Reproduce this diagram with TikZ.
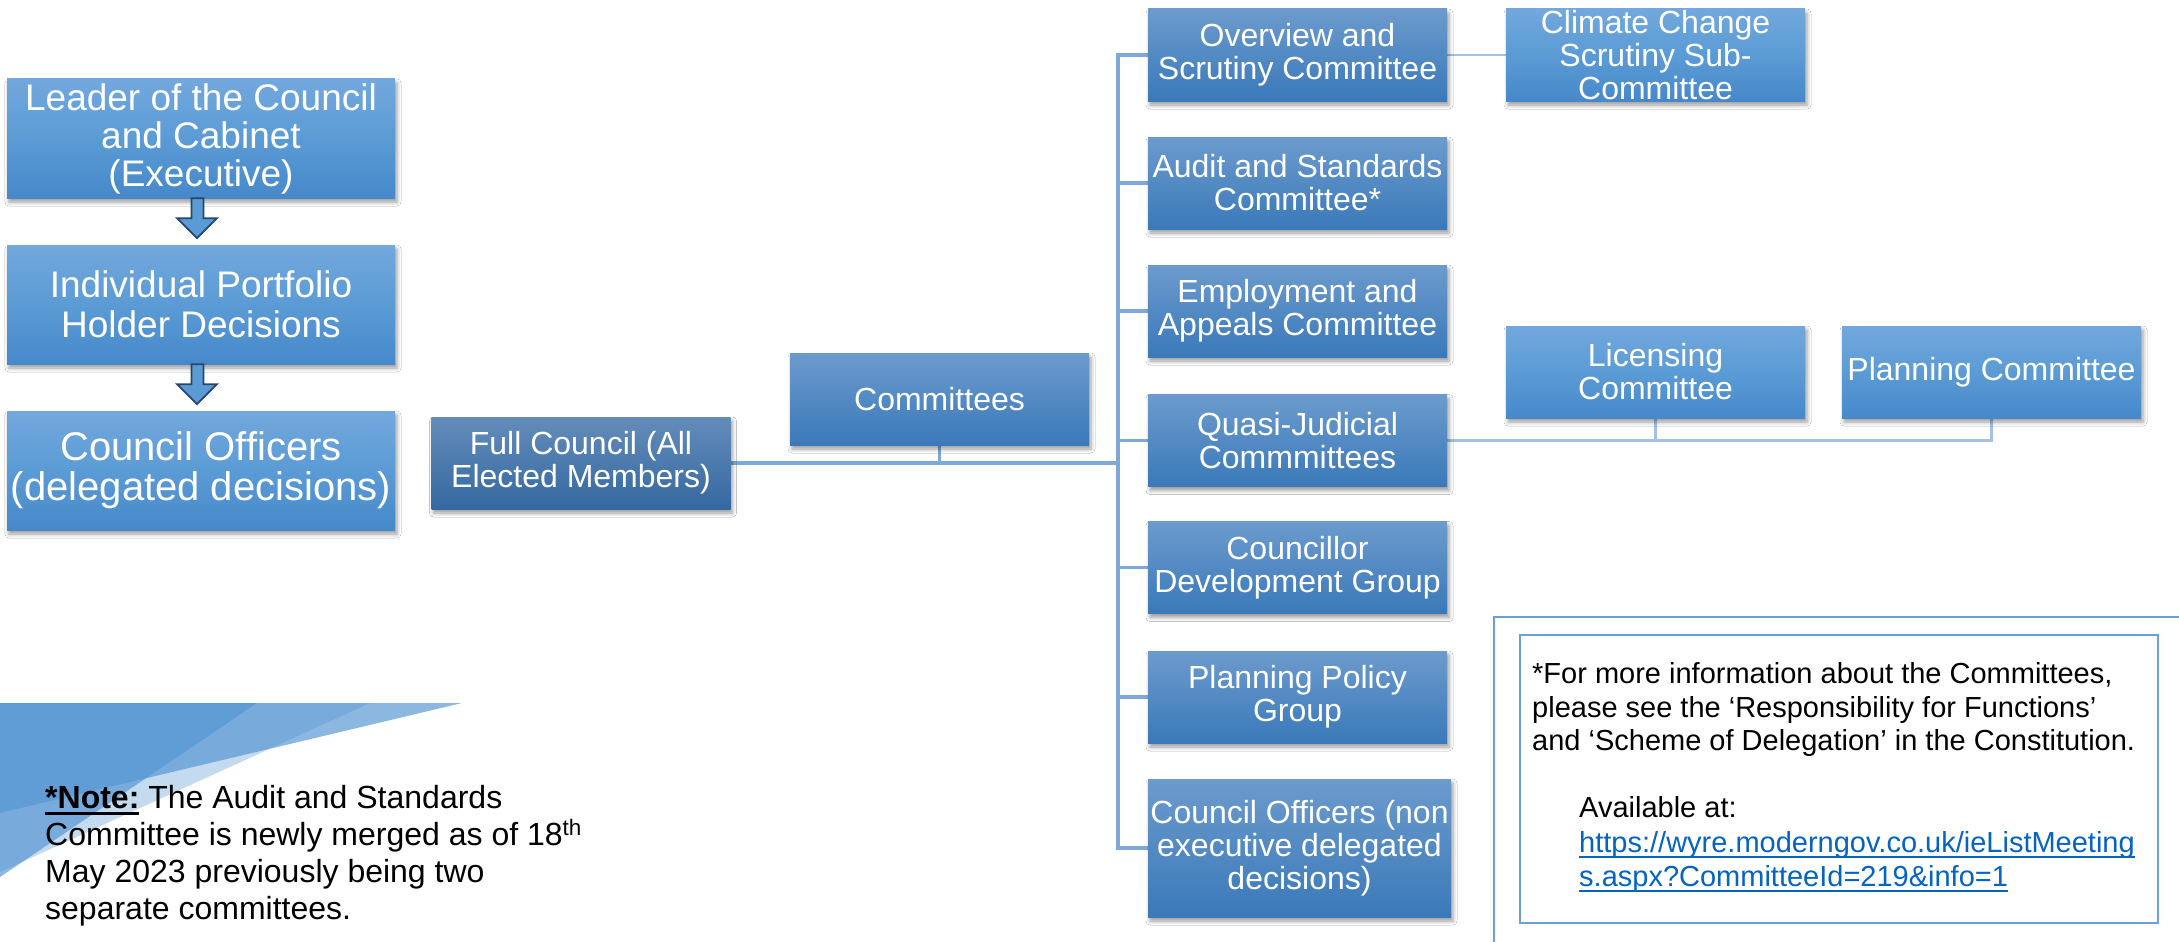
\documentclass[tikz,border=0pt]{standalone}
\usepackage{fontspec}
\setmainfont{Liberation Sans}
\usetikzlibrary{calc,shadows.blur,backgrounds}
\definecolor{midtop}{RGB}{108,155,205}
\definecolor{midbot}{RGB}{58,121,185}
\definecolor{fulltop}{RGB}{100,140,186}
\definecolor{fullbot}{RGB}{52,104,160}
\definecolor{lefttop}{RGB}{114,168,221}
\definecolor{leftmid}{RGB}{91,155,213}
\definecolor{leftbot}{RGB}{70,136,202}
\definecolor{linecol}{RGB}{125,168,218}
\definecolor{lightline}{RGB}{163,193,228}
\definecolor{framecol}{RGB}{106,160,214}
\definecolor{decor}{RGB}{85,150,212}
\definecolor{arrowedge}{RGB}{40,70,105}
\definecolor{urlcol}{RGB}{5,99,193}
\newcommand{\ulbar}[3]{\leavevmode\setbox0\hbox{#3}\rlap{\rule[-#1]{\wd0}{#2}}\box0\relax}
\newcommand{\downblock}[1]{%
  \draw[blockarrow] ($(#1.south)+(-9.5,0)$) -- ($(#1.south)+(-9.5,20)$) -- ($(#1.south)+(-24,20)$)
    -- ($(#1.south)+(-4,40)$) -- ($(#1.south)+(16,20)$) -- ($(#1.south)+(2.5,20)$)
    -- ($(#1.south)+(2.5,0)$) -- cycle;}
\begin{document}
\begin{tikzpicture}[x=1pt,y=-1pt,
  box/.style={rectangle, inner sep=0pt, align=center, text=white,
    minimum width=299pt, minimum height=92pt, font=\fontsize{32}{33}\selectfont,
    blur shadow={shadow xshift=2pt, shadow yshift=-4pt, shadow blur radius=4pt, shadow opacity=40}},
  midbox/.style={box, top color=midtop, bottom color=midbot},
  fullbox/.style={box, top color=fulltop, bottom color=fullbot},
  leftbox/.style={box, top color=lefttop, bottom color=leftbot, middle color=leftmid,
    minimum width=388pt, minimum height=119pt},
  subbox/.style={box, top color=lefttop, bottom color=leftbot, middle color=leftmid},
  conn/.style={draw=linecol, line width=3.5pt, line cap=rect},
  subconn/.style={draw=lightline, line width=2.5pt, line cap=rect},
  blockarrow/.style={fill=leftmid, draw=arrowedge, line width=1.8pt, line join=miter},
  plain/.style={inner sep=0pt, anchor=base west, text=black},
  frame/.style={draw=framecol, line width=2.5pt}
]
\useasboundingbox (0,0) rectangle (2179,942);

% decoration bottom left
\fill[decor, opacity=0.35] (0,703) -- (370,703) -- (0,872) -- cycle;
\fill[decor, opacity=0.68] (0,703) -- (462,703) -- (0,813) -- cycle;
\fill[decor, opacity=0.68] (0,703) -- (257,703) -- (0,877) -- cycle;

% left column
\node[leftbox, font=\fontsize{37}{38}\selectfont] (lead) at (201,138.5) {Leader of the Council\\and Cabinet\\(Executive)};
\node[leftbox, font=\fontsize{37}{40}\selectfont] (port) at (201,304.5) {Individual Portfolio\\Holder Decisions};
\node[leftbox, font=\fontsize{40}{40}\selectfont] (off) at (201,470.5) {Council Officers\\(delegated decisions)};
\downblock{lead}
\downblock{port}

% middle
\node[fullbox] (full) at (581,463) {Full Council (All\\Elected Members)};
\node[midbox] (comm) at (939.5,399) {Committees};

% right column
\node[midbox] (ov) at (1297.5,55) {Overview and\\Scrutiny Committee};
\node[midbox] (aud) at (1297.5,183) {Audit and Standards\\Committee*};
\node[midbox] (emp) at (1297.5,311) {Employment and\\Appeals Committee};
\node[midbox] (quasi) at (1297.5,440.5) {Quasi-Judicial\\Commmittees};
\node[midbox] (cdg) at (1297.5,567.5) {Councillor\\Development Group};
\node[midbox] (ppg) at (1297.5,697) {Planning Policy\\Group};
\node[midbox, minimum width=303pt, minimum height=138pt] (coff) at (1299.5,848) {Council Officers (non\\executive delegated\\decisions)};

% sub committees
\node[subbox] (clim) at (1655.5,55) {};
\node[inner sep=0pt, align=center, text=white, font=\fontsize{32}{33}\selectfont] (climtext) at (clim.center) {Climate Change\\Scrutiny Sub-\\Committee};
\node[subbox] (lic) at (1655.5,372) {Licensing\\Committee};
\node[subbox] (plan) at (1991.5,372) {Planning Committee};

% connectors
\begin{scope}[on background layer]
  \fill[white] (0,0) rectangle (2179,942);
  \coordinate (tj) at (1118,463);
  \draw[conn] (full.east) -- (tj);
  \draw[conn] (comm.south) -- (comm.south |- tj);
  \draw[conn] (ov.west -| tj) -- (coff.west -| tj);
  \foreach \n in {ov,aud,emp,quasi,cdg,ppg,coff} \draw[conn] (\n.west) -- (\n.west -| tj);
  \draw[subconn] (quasi.east) -- (quasi.east -| plan.south);
  \draw[subconn] (lic.south) -- (lic.south |- quasi.east);
  \draw[subconn] (plan.south) -- (plan.south |- quasi.east);
  \draw[subconn] (ov.east) -- (clim.west);
\end{scope}

% note
\begin{scope}[font=\fontsize{32}{37}\selectfont]
\node[plain] (n1) at (45,808) {\ulbar{6.5pt}{3pt}{\textbf{*Note:}} The Audit and Standards};
\node[plain] (n2) at (45,845) {Committee is newly merged as of 18\textsuperscript{th}};
\node[plain] (n3) at (45,882) {May 2023 previously being two};
\node[plain] (n4) at (45,919) {separate committees.};
\end{scope}

% info box
\draw[frame] (1494,617) rectangle (2200,960);
\draw[frame] (1520,635) rectangle (2158,923);
\begin{scope}[font=\fontsize{29}{33}\selectfont]
\node[plain] (i1) at (1532,683) {*For more information about the Committees,};
\node[plain] (i2) at (1532,717) {please see the ‘Responsibility for Functions’};
\node[plain] (i3) at (1532,750) {and ‘Scheme of Delegation’ in the Constitution.};
\node[plain] (i4) at (1579,817) {Available at:};
\node[plain, text=urlcol] (i5) at (1579,852) {\ulbar{6pt}{2pt}{https://wyre.moderngov.co.uk/ieListMeeting}};
\node[plain, text=urlcol] (i6) at (1579,886) {\ulbar{6pt}{2pt}{s.aspx?CommitteeId=219\&info=1}};
\end{scope}
\end{tikzpicture}
\end{document}
